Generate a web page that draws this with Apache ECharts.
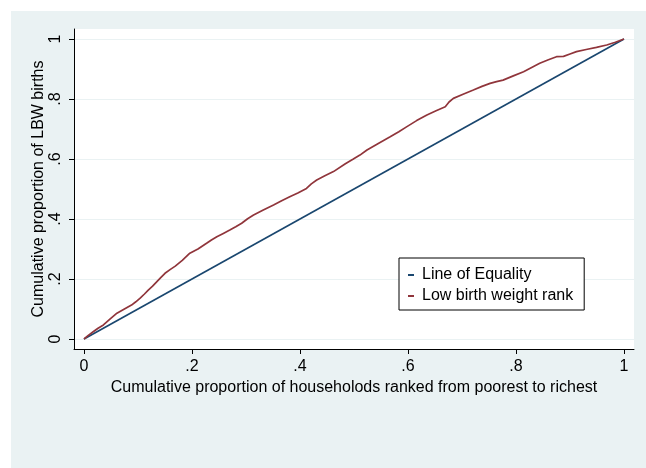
<!DOCTYPE html>
<html>
<head>
<meta charset="utf-8">
<script src="https://cdn.jsdelivr.net/npm/echarts@6/dist/echarts.min.js"></script>
<style>
html,body{margin:0;padding:0;background:#fff;}
#bg{position:absolute;left:11px;top:11px;width:635px;height:457px;background:#eaf2f3;}
#chart{position:absolute;left:0;top:0;width:646px;height:468px;}
</style>
</head>
<body>
<div id="bg"></div>
<div id="chart"></div>
<script>
// Tick values
const tickValues = [0, 0.2, 0.4, 0.6, 0.8, 1];
// Line of equality
const equalityX = [0, 1];
const equalityY = [0, 1];
// Concentration curve (cumulative proportion of LBW births)
const lbwX = [0, .008, .017, .026, .036, .048, .061, .074, .088, .096, .104, .112, .119, .127, .135, .143, .150, .160, .169, .182, .196, .211, .227, .236, .246, .258, .270, .281, .292, .303, .314, .332, .351, .366, .381, .396, .412, .421, .431, .446, .462, .484, .498, .511, .524, .545, .567, .583, .598, .616, .635, .652, .669, .676, .684, .702, .721, .737, .752, .764, .776, .795, .814, .829, .844, .860, .875, .888, .900, .912, .930, .949, .968, .984, 1];
const lbwY = [0, .012, .024, .036, .047, .066, .086, .099, .113, .124, .136, .150, .163, .176, .191, .206, .219, .232, .243, .262, .286, .300, .319, .330, .341, .352, .363, .374, .386, .401, .413, .430, .447, .461, .474, .487, .502, .517, .530, .544, .558, .584, .599, .613, .630, .652, .674, .691, .708, .728, .747, .761, .774, .790, .802, .816, .830, .842, .852, .858, .863, .877, .891, .905, .919, .931, .941, .942, .950, .958, .965, .972, .980, .989, 1];
const seriesNames = ['Line of Equality', 'Low birth weight rank'];
const xTitle = 'Cumulative proportion of househoIods ranked from poorest to richest'.replace('I', 'l');
const yTitle = 'Cumulative proportion of LBW births';

const pairs = (xs, ys) => xs.map((x, i) => [x, ys[i]]);
const fmt = v => v === 0 ? '0' : v === 1 ? '1' : String(+v.toFixed(1)).replace(/^0/, '');
const FONT = 'Liberation Sans, Arial, sans-serif';
const FS = 16;

const chart = echarts.init(document.getElementById('chart'), null, {renderer: 'canvas'});
chart.setOption({
  backgroundColor: 'transparent',
  animation: false,
  grid: {left: 74, top: 29, right: 12, bottom: 119, show: true, backgroundColor: '#fff', borderWidth: 0},
  xAxis: {
    type: 'value', min: -10/540, max: 1 + 10/540,
    name: xTitle, nameLocation: 'middle', nameGap: 26,
    nameTextStyle: {fontFamily: FONT, fontSize: FS, color: '#000'},
    axisLine: {show: true, onZero: false, lineStyle: {color: '#000', width: 1}},
    axisTick: {show: true, length: 5, customValues: tickValues, lineStyle: {color: '#000'}},
    axisLabel: {customValues: tickValues, formatter: fmt, fontFamily: FONT, fontSize: FS, color: '#000', margin: 10},
    splitLine: {show: false}
  },
  yAxis: {
    type: 'value', min: -10/300, max: 1 + 10/300,
    name: yTitle, nameLocation: 'middle', nameGap: 27, nameMoveOverlap: false,
    nameTextStyle: {fontFamily: FONT, fontSize: FS, color: '#000'},
    axisLine: {show: true, onZero: false, lineStyle: {color: '#000', width: 1}},
    axisTick: {show: true, length: 5, customValues: tickValues, lineStyle: {color: '#000'}},
    axisLabel: {customValues: tickValues, formatter: fmt, rotate: 90, fontFamily: FONT, fontSize: FS, color: '#000', margin: 10},
    splitLine: {show: true, lineStyle: {color: '#eaf2f3', width: 1}}
  },
  legend: {
    orient: 'vertical', left: 399, top: 258,
    data: seriesNames,
    backgroundColor: '#fff', borderColor: '#000', borderWidth: 1,
    padding: [9, 11, 6, 9], itemGap: 5,
    icon: 'rect', itemWidth: 6, itemHeight: 2,
    textStyle: {fontFamily: FONT, fontSize: FS, color: '#000', lineHeight: 16, padding: [0, 0, 0, 3]}
  },
  series: [
    {name: seriesNames[0], type: 'line', data: pairs(equalityX, equalityY), showSymbol: false, symbol: 'none',
     lineStyle: {color: '#1a476f', width: 1.7}, itemStyle: {color: '#1a476f'}},
    {name: seriesNames[1], type: 'line', data: pairs(lbwX, lbwY), showSymbol: false, symbol: 'none',
     lineStyle: {color: '#90353b', width: 1.7}, itemStyle: {color: '#90353b'}}
  ]
});
</script>
</body>
</html>
